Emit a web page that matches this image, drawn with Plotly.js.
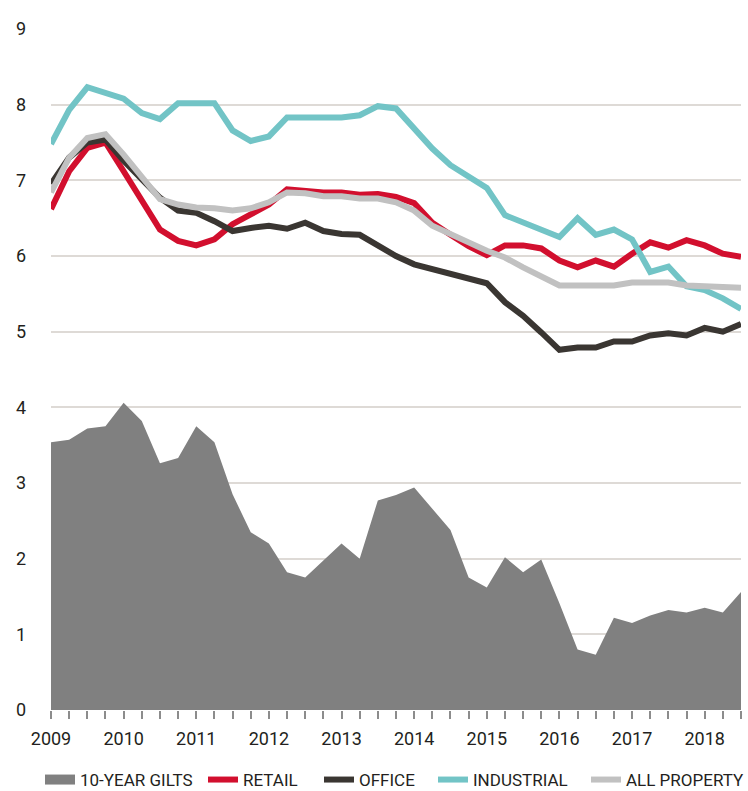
<!DOCTYPE html>
<html>
<head>
<meta charset="utf-8">
<script src="https://cdn.plot.ly/plotly-3.0.1.min.js"></script>
<style>html,body{margin:0;padding:0;background:#fff;}#chart{width:748px;height:791px;}</style>
</head>
<body>
<div id="chart"></div>
<script>
const quarters = [2009.00, 2009.25, 2009.50, 2009.75, 2010.00, 2010.25, 2010.50, 2010.75,
  2011.00, 2011.25, 2011.50, 2011.75, 2012.00, 2012.25, 2012.50, 2012.75,
  2013.00, 2013.25, 2013.50, 2013.75, 2014.00, 2014.25, 2014.50, 2014.75,
  2015.00, 2015.25, 2015.50, 2015.75, 2016.00, 2016.25, 2016.50, 2016.75,
  2017.00, 2017.25, 2017.50, 2017.75, 2018.00, 2018.25, 2018.50];

const gilts = [3.54, 3.57, 3.72, 3.75, 4.06, 3.82, 3.26, 3.33, 3.75, 3.54, 2.85, 2.35, 2.20,
  1.82, 1.75, 1.98, 2.20, 2.00, 2.77, 2.84, 2.94, 2.66, 2.38, 1.75, 1.62, 2.02, 1.82, 1.99,
  1.41, 0.80, 0.73, 1.22, 1.15, 1.25, 1.32, 1.29, 1.35, 1.29, 1.56];

const retail = [6.62, 7.12, 7.43, 7.50, 7.12, 6.73, 6.35, 6.20, 6.14, 6.22, 6.42, 6.55, 6.68,
  6.88, 6.85, 6.84, 6.84, 6.81, 6.82, 6.78, 6.70, 6.44, 6.28, 6.13, 6.01, 6.14, 6.14, 6.10,
  5.94, 5.85, 5.94, 5.86, 6.03, 6.18, 6.11, 6.21, 6.14, 6.03, 5.99];

const office = [6.95, 7.30, 7.50, 7.54, 7.26, 7.02, 6.77, 6.60, 6.57, 6.46, 6.33, 6.37, 6.40,
  6.36, 6.44, 6.33, 6.29, 6.28, 6.13, 6.00, 5.89, 5.83, 5.77, 5.70, 5.64, 5.39, 5.21, 4.99,
  4.76, 4.79, 4.79, 4.87, 4.87, 4.95, 4.98, 4.95, 5.05, 5.00, 5.10];

const industrial = [7.48, 7.93, 8.23, 8.15, 8.08, 7.89, 7.81, 8.02, 8.02, 8.02, 7.66, 7.52, 7.58,
  7.83, 7.83, 7.83, 7.83, 7.86, 7.98, 7.95, 7.68, 7.42, 7.20, 7.04, 6.90, 6.54, 6.44, 6.33,
  6.25, 6.50, 6.28, 6.35, 6.22, 5.79, 5.86, 5.60, 5.55, 5.44, 5.30];

const allProperty = [6.84, 7.30, 7.56, 7.61, 7.34, 7.04, 6.75, 6.68, 6.64, 6.63, 6.60, 6.63, 6.71,
  6.84, 6.83, 6.79, 6.79, 6.76, 6.76, 6.71, 6.60, 6.40, 6.28, 6.18, 6.07, 5.98, 5.85, 5.74,
  5.61, 5.61, 5.61, 5.61, 5.65, 5.65, 5.65, 5.61, 5.60, 5.58, 5.58];

const seriesNames = ['10-YEAR GILTS', 'RETAIL', 'OFFICE', 'INDUSTRIAL', 'ALL PROPERTY'];
const yTicks = [0, 1, 2, 3, 4, 5, 6, 7, 8, 9];
const yearTicks = [2009, 2010, 2011, 2012, 2013, 2014, 2015, 2016, 2017, 2018];

const colors = ['#808080', '#d20f2e', '#3a3632', '#72c4c6', '#c1c1c1'];
const lw = 6;
const legendIds = ['legend', 'legend2', 'legend3', 'legend4', 'legend5'];
const legendX = [40, 203, 319, 433, 586];

const traces = [
  {x: quarters, y: gilts, name: seriesNames[0], type: 'scatter', mode: 'lines',
   fill: 'tozeroy', fillcolor: colors[0], line: {width: 0, color: colors[0]}, showlegend: false},
  // legend swatch for the gilts area (no data drawn)
  {x: [null], y: [null], name: seriesNames[0], type: 'scatter', mode: 'lines',
   line: {width: 13, color: colors[0]}, legend: legendIds[0], hoverinfo: 'skip'},
  {x: quarters, y: retail, name: seriesNames[1], type: 'scatter', mode: 'lines',
   line: {width: lw, color: colors[1]}, legend: legendIds[1]},
  {x: quarters, y: office, name: seriesNames[2], type: 'scatter', mode: 'lines',
   line: {width: lw, color: colors[2]}, legend: legendIds[2]},
  {x: quarters, y: industrial, name: seriesNames[3], type: 'scatter', mode: 'lines',
   line: {width: lw, color: colors[3]}, legend: legendIds[3]},
  {x: quarters, y: allProperty, name: seriesNames[4], type: 'scatter', mode: 'lines',
   line: {width: lw, color: colors[4]}, legend: legendIds[4]}
];

const layout = {
  width: 748, height: 791,
  margin: {l: 51, r: 7, t: 29, b: 81, pad: 0},
  paper_bgcolor: '#fff', plot_bgcolor: '#fff',
  font: {family: 'Roboto, "Liberation Sans", sans-serif', color: '#231f20', size: 18},
  showlegend: true,
  xaxis: {
    type: 'linear', range: [2009, 2018.5], tickmode: 'array', tickvals: yearTicks,
    ticktext: yearTicks.map(String),
    ticks: 'outside', ticklen: 8, tickwidth: 2, tickcolor: '#8c8c8c',
    showgrid: false, zeroline: false, showline: false,
    ticklabelstandoff: 4,
    minor: {dtick: 0.25, tick0: 2009, ticks: 'outside', ticklen: 8, tickwidth: 2,
      tickcolor: '#8c8c8c', showgrid: false},
    fixedrange: true
  },
  yaxis: {
    range: [0, 9], tickmode: 'array', tickvals: yTicks, ticktext: yTicks.map(String),
    showgrid: true, gridcolor: '#dedad6', gridwidth: 2,
    zeroline: false, showline: false, ticks: '', ticklabelstandoff: 24,
    fixedrange: true
  }
};

legendIds.forEach((id, i) => {
  layout[id] = {orientation: 'h', xref: 'container', yref: 'container',
    x: legendX[i] / 748, y: 11 / 791, xanchor: 'left', yanchor: 'middle',
    font: {size: 17, color: '#231f20'}, itemwidth: 30, bgcolor: 'rgba(0,0,0,0)',
    borderwidth: 0};
});

Plotly.newPlot('chart', traces, layout, {displayModeBar: false, staticPlot: true});
</script>
</body>
</html>
